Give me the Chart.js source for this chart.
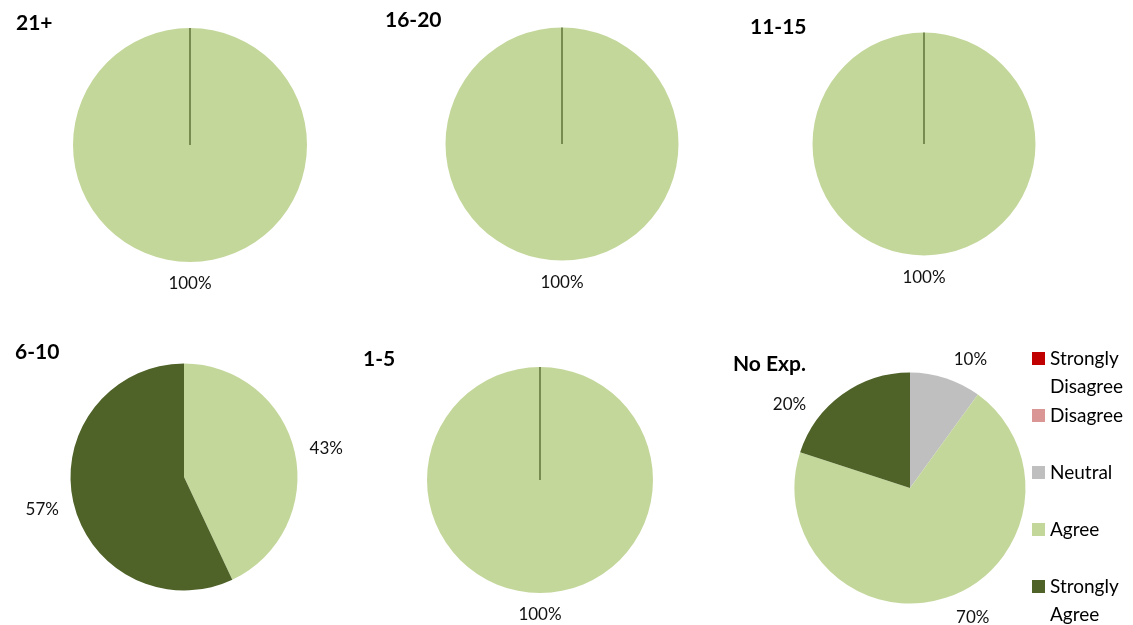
<!DOCTYPE html>
<html lang="en">
<head>
    <meta charset="UTF-8">
    <title>Agreement by experience</title>
    <script src="https://cdn.jsdelivr.net/npm/chart.js"></script>
    <style>
        html, body { margin: 0; padding: 0; background: #fff; }
        body { width: 1133px; height: 625px; overflow: hidden; position: relative; font-family: Lato, sans-serif; color: #000; }
        canvas { position: absolute; }
        .titulo { position: absolute; font-weight: bold; font-size: 21px; line-height: 21px; white-space: nowrap; z-index: 2; }
        .legenda-item { position: absolute; left: 1032px; z-index: 2; }
        .legenda-cor { position: absolute; left: 0; top: 0; width: 13px; height: 13px; }
        .legenda-texto { position: absolute; left: 18px; top: -8px; font-size: 19px; line-height: 28px; white-space: nowrap; }
    </style>
</head>
<body>
<div id="legenda"></div>

<script>
// answer options, in the order the slices go round clockwise from the top
var categories = ["Strongly Disagree", "Disagree", "Neutral", "Agree", "Strongly Agree"];
var legendLines = [["Strongly", "Disagree"], ["Disagree"], ["Neutral"], ["Agree"], ["Strongly", "Agree"]];
var sliceColors = ["#c00000", "#da9694", "#bfbfbf", "#c4d79b", "#4f6228"];

// years of experience, one pie each
var groups = ["21+", "16-20", "11-15", "6-10", "1-5", "No Exp."];

// percentage per group
var stronglyDisagree = [0, 0, 0, 0, 0, 0];
var disagree         = [0, 0, 0, 0, 0, 0];
var neutral          = [0, 0, 0, 0, 0, 10];
var agree            = [100, 100, 100, 43, 100, 70];
var stronglyAgree    = [0, 0, 0, 57, 0, 20];

// where each pie sits on the page
var pies = [
    { cx: 190, cy: 145, r: 117,   tx: 16,  ty: 22 },
    { cx: 562, cy: 144, r: 116.5, tx: 385, ty: 18.5 },
    { cx: 924, cy: 144, r: 111.5, tx: 750, ty: 25.5 },
    { cx: 184, cy: 477, r: 113.5, tx: 15,  ty: 350.5 },
    { cx: 540, cy: 480, r: 113,   tx: 363, ty: 358 },
    { cx: 910, cy: 488, r: 115.5, tx: 733, ty: 363 }
];
// small angle tweaks (degrees) for crowded labels
var labelNudge = [
    [0, 0, 0, 0, 0],
    [0, 0, 0, 0, 0],
    [0, 0, 0, 0, 0],
    [0, 0, 0, 1, 0],
    [0, 0, 0, 0, 0],
    [0, 0, 7, -8, -19]
];
var meio = 185;

// percent labels outside the slices + the seam line on a full circle
var rotulosPizza = {
    id: "rotulosPizza",
    afterDatasetsDraw: function (chart, args, opts) {
        var ctx = chart.ctx;
        var meta = chart.getDatasetMeta(0);
        var valores = chart.data.datasets[0].data;
        var total = valores.reduce(function (s, v) { return s + v; }, 0);
        ctx.save();
        ctx.font = "17px Lato";
        ctx.fillStyle = "#111";
        ctx.textAlign = "center";
        ctx.textBaseline = "middle";
        meta.data.forEach(function (arc, i) {
            var v = valores[i];
            if (!v) return;
            var p = arc.getProps(["x", "y", "startAngle", "endAngle", "outerRadius"], true);
            if (p.endAngle - p.startAngle >= Math.PI * 2 - 1e-6) {
                ctx.beginPath();
                ctx.strokeStyle = "#4f6228";
                ctx.lineWidth = 1.3;
                ctx.moveTo(p.x, p.y);
                ctx.lineTo(p.x + p.outerRadius * Math.cos(p.startAngle), p.y + p.outerRadius * Math.sin(p.startAngle));
                ctx.stroke();
            }
            var texto = Math.round(v / total * 100) + "%";
            var ang = (p.startAngle + p.endAngle) / 2 + (opts.nudge[i] || 0) * Math.PI / 180;
            var c = Math.cos(ang), s = Math.sin(ang);
            var w = ctx.measureText(texto).width;
            var dist = p.outerRadius + 14 + Math.abs(c) * w / 2 + Math.abs(s) * 7;
            ctx.fillText(texto, p.x + dist * c, p.y + dist * s + 1);
        });
        ctx.restore();
    }
};

Chart.defaults.font.family = "Lato";

for (var i = 0; i < groups.length; i++) {
    var pos = pies[i];

    var canvas = document.createElement("canvas");
    canvas.width = meio * 2;
    canvas.height = meio * 2;
    canvas.style.left = (pos.cx - meio) + "px";
    canvas.style.top = (pos.cy - meio) + "px";
    document.body.appendChild(canvas);

    var titulo = document.createElement("div");
    titulo.className = "titulo";
    titulo.textContent = groups[i];
    titulo.style.left = pos.tx + "px";
    titulo.style.top = (pos.ty - 11) + "px";
    document.body.appendChild(titulo);

    new Chart(canvas, {
        type: "pie",
        data: {
            labels: categories,
            datasets: [{
                data: [stronglyDisagree[i], disagree[i], neutral[i], agree[i], stronglyAgree[i]],
                backgroundColor: sliceColors,
                borderWidth: 0
            }]
        },
        options: {
            responsive: false,
            animation: false,
            radius: pos.r,
            layout: { padding: 0 },
            plugins: {
                legend: { display: false },
                tooltip: { enabled: false },
                rotulosPizza: { nudge: labelNudge[i] }
            }
        },
        plugins: [rotulosPizza]
    });
}

// legend on the right
var legenda = document.getElementById("legenda");
for (var k = 0; k < categories.length; k++) {
    var item = document.createElement("div");
    item.className = "legenda-item";
    item.style.top = (352 + k * 57) + "px";
    var cor = document.createElement("div");
    cor.className = "legenda-cor";
    cor.style.background = sliceColors[k];
    var texto = document.createElement("div");
    texto.className = "legenda-texto";
    texto.innerHTML = legendLines[k].join("<br>");
    item.appendChild(cor);
    item.appendChild(texto);
    legenda.appendChild(item);
}
</script>
</body>
</html>
